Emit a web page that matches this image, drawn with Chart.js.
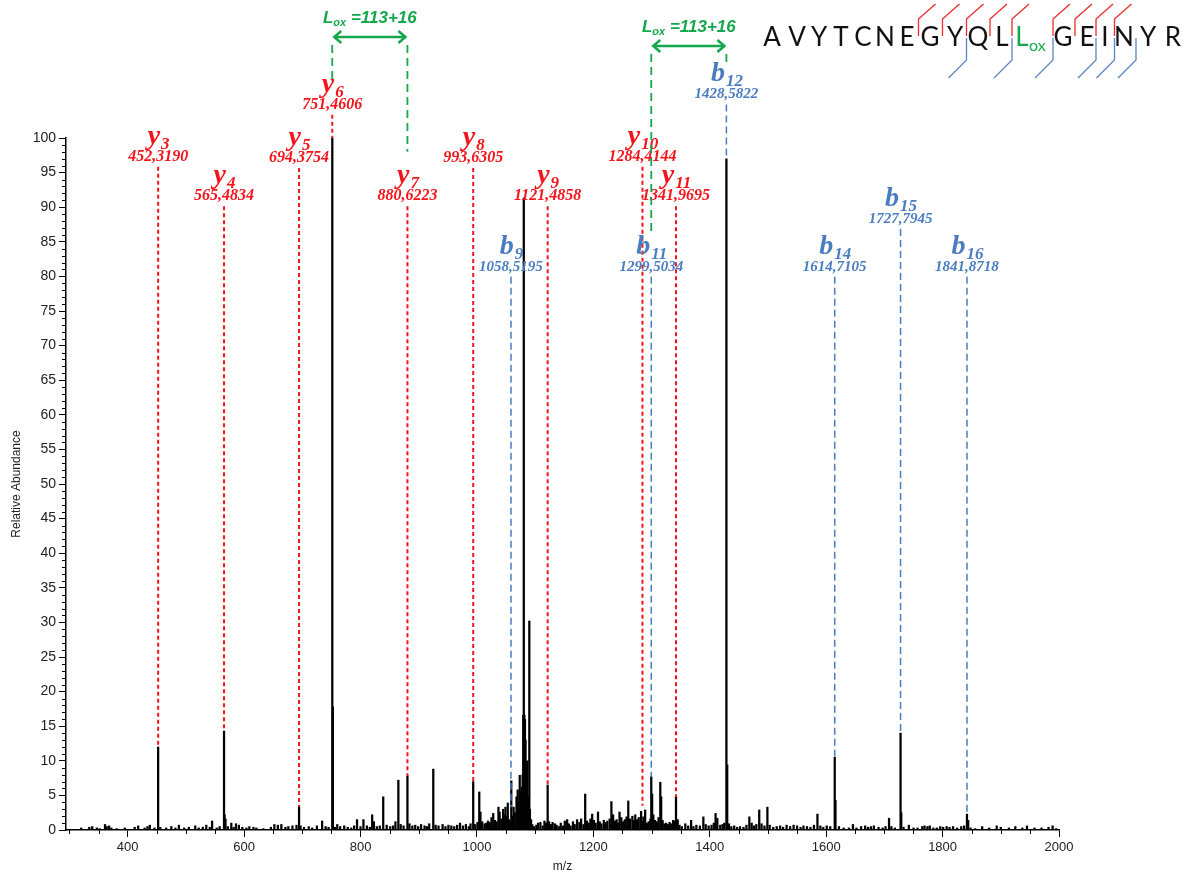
<!DOCTYPE html>
<html><head><meta charset="utf-8">
<script src="https://cdn.jsdelivr.net/npm/chart.js@4.4.1/dist/chart.umd.min.js"></script>
<style>html,body{margin:0;padding:0;background:#fff;}#wrap{width:1190px;height:880px;position:relative;}</style>
</head><body><div id="wrap"><canvas id="c" width="1190" height="880"></canvas></div>
<script>
// ---- spectrum data (m/z, relative abundance) ----
const mzValues = [
320,334,339,347,352,361,364,368,372,381,395,412,418,429,434,438,446,452.3,456,466,475,482,488,497,505,516,522,529,535,541,545,553,558,565.5,566.5,568,572,578,582,586,591,597,604,609,616,621,633,646,652,658,664,671,676,683,690,694.4,697,703,711,717,725,734,740,745,751.5,752.5,756,760,765,772,778,784,789,794,800,805,811,816,820,823,828,833,839,845,851,856,860,865,869,874,880.6,884,889,894,899,904,910,914,918,925,929,934,941,946,951,956,961,966,971,976,981,986,989,993.6,997,1001,1004,1006,1009,1013,1016,1019,1022,1025,1028,1031,1034,1037,1039,1042,1045,1047,1049,1051,1053,1055,1057,1059,1061,1063,1065,1068,1070,1072,1073.5,1075,1077,1078.5,1079.5,1080.5,1081.5,1082.5,1083.5,1085,1086.5,1088,1090,1091,1093,1095,1098,1102,1105,1109,1113,1116,1119,1121.5,1124,1127,1130,1134,1137,1141,1144,1148,1151,1155,1158,1161,1165,1168,1172,1176,1179,1183,1186,1189,1192,1195,1198,1201,1204,1208,1211,1214,1218,1221,1224,1228,1231,1234,1237,1240,1242,1245,1248,1251,1254,1257,1260,1263,1267,1270,1272,1275,1278,1282,1284.4,1286,1289,1292,1295,1298,1299.5,1301,1303,1306,1309,1312,1315,1316.5,1319,1322,1325,1328,1331,1334,1337,1340,1342,1345,1348,1352,1358,1363,1368,1372,1377,1383,1389,1393,1398,1403,1407,1410,1413,1418,1422,1425,1428.6,1430,1433,1437,1442,1447,1452,1458,1463,1468,1472,1476,1480,1485,1489,1494,1499,1503,1509,1515,1521,1526,1532,1538,1544,1550,1556,1561,1567,1573,1579,1585,1590,1595,1601,1607,1614.7,1616,1622,1630,1639,1646,1652,1660,1667,1672,1677,1682,1690,1697,1702,1708,1712,1718,1727.8,1729,1733,1742,1750,1757,1765,1769,1774,1778,1784,1790,1796,1801,1807,1812,1818,1825,1832,1837,1841.9,1844,1848,1856,1868,1880,1893,1900,1914,1925,1937,1945,1958,1970,1982,1989,1995
];
const abundance = [
0.3,0.4,0.5,0.3,0.2,0.8,0.5,0.6,0.3,0.2,0.3,0.4,0.6,0.3,0.5,0.7,0.3,12.0,0.4,0.3,0.5,0.3,0.7,0.3,0.4,0.6,0.3,0.4,0.7,0.4,1.3,0.3,0.5,14.3,2.2,1.6,0.5,1.0,0.4,0.9,0.7,0.4,0.3,0.5,0.4,0.3,0.2,0.4,0.8,0.7,0.8,0.4,0.5,0.6,0.7,3.4,0.6,0.4,0.5,0.3,0.6,1.3,0.5,0.4,100,17.8,0.4,0.8,0.5,0.6,0.4,0.3,0.6,1.5,0.5,1.5,0.6,0.4,2.2,1.2,0.5,0.6,4.8,0.7,0.5,0.6,1.2,7.2,0.8,0.6,7.8,0.9,0.6,0.7,0.5,0.8,0.6,0.5,0.9,8.8,0.7,0.6,0.8,0.5,0.7,0.6,0.5,0.7,1.0,0.6,0.8,0.5,0.9,7.0,0.8,1.1,5.5,2.6,1.2,0.9,1.0,1.3,1.1,1.8,2.4,1.4,1.2,3.3,2.6,1.6,3.0,2.2,3.3,2.0,3.9,1.5,1.2,7.1,2.0,3.3,2.5,4.8,5.8,4.0,7.9,5.5,6.2,8.0,16.6,91.3,16.6,16.0,13.0,9.0,10.0,4.8,30.2,3.0,1.5,0.8,0.5,0.7,1.0,1.1,0.6,1.3,1.0,6.5,1.2,0.8,1.1,0.9,0.7,0.5,1.0,0.6,1.3,1.5,0.9,0.6,1.2,0.8,1.5,1.1,1.6,0.8,5.2,1.3,1.0,1.6,2.3,1.4,1.0,2.6,1.2,0.9,1.4,1.1,1.3,1.6,4.1,2.2,1.3,1.5,1.0,2.6,1.8,1.2,1.5,1.9,4.2,1.6,2.0,1.4,2.2,1.5,1.8,2.7,1.3,1.9,2.9,1.0,1.2,1.6,7.7,5.2,2.2,1.4,1.2,1.8,6.9,4.8,1.4,0.9,1.0,0.8,1.1,0.9,1.4,1.3,4.8,1.5,0.7,0.5,0.9,0.6,1.4,0.5,0.7,0.6,1.9,0.8,0.6,0.7,1.0,2.4,1.7,0.7,0.8,1.0,97.0,9.4,0.9,0.5,0.6,0.4,0.5,0.4,0.7,1.9,1.0,0.6,0.8,2.9,0.9,0.6,3.3,0.7,0.4,0.5,0.6,0.4,0.7,0.5,0.7,0.6,0.4,0.6,0.5,0.4,0.7,2.3,0.6,0.4,0.6,0.5,10.5,4.3,0.5,0.3,0.3,0.8,0.3,0.5,0.6,0.4,0.5,0.6,0.4,0.3,0.5,1.7,0.5,0.3,14.0,2.5,0.4,0.7,0.3,0.3,0.5,0.6,0.5,0.6,0.3,0.3,0.5,0.4,0.5,0.4,0.5,0.3,0.5,0.6,2.3,1.4,0.3,0.2,0.5,0.3,0.6,0.4,0.3,0.5,0.3,0.6,0.3,0.3,0.4,0.6,0.2
];
const xTickLabels = [400,600,800,1000,1200,1400,1600,1800,2000];
const yTickValues = [0,5,10,15,20,25,30,35,40,45,50,55,60,65,70,75,80,85,90,95,100];

// ---- fragment ion annotations ----
const ionLetter = ['y','y','y','y','y','y','y','y','y','b','b','b','b','b','b'];
const ionIndex  = ['3','4','5','6','7','8','9','10','11','9','11','12','14','15','16'];
const ionMassText = ['452,3190','565,4834','694,3754','751,4606','880,6223','993,6305','1121,4858','1284,4144','1341,9695','1058,5195','1299,5034','1428,5822','1614,7105','1727,7945','1841,8718'];
const ionMz = [452.3,565.5,694.4,751.46,880.6,993.6,1121.5,1284.4,1342.0,1058.5,1299.5,1428.6,1614.7,1727.8,1841.9];
const ionPeakTop = [12.0,14.3,3.4,100,7.8,7.0,6.5,3.5,4.8,3.3,7.7,97.0,10.5,14.0,2.3];
const ionLabelLevel = [97.3,91.6,97.1,104.8,91.6,97.1,91.6,97.3,91.6,81.4,81.4,106.3,81.4,88.3,81.4];

// L(ox) mass-shift brackets: pairs of m/z
const shiftFrom = [751.46, 1299.5];
const shiftTo   = [880.6, 1428.6];

// peptide sequence
const sequence = ['A','V','Y','T','C','N','E','G','Y','Q','L','L','G','E','I','N','Y','R'];
const yBreaks = [7,8,9,10,11,12,13,14,15];   // break after residue count
const bBreaks = [9,11,12,14,15,16];

const RED = '#f5141c', BLUE = '#4a7dbf', GREEN = '#14a84c';

const minorTicks = {
  id: 'minorTicks',
  afterDraw(chart) {
    const {ctx, scales: {x, y}} = chart;
    ctx.save();
    ctx.strokeStyle = '#000'; ctx.lineWidth = 1;
    const yb = y.getPixelForValue(0), xl = x.getPixelForValue(x.min);
    for (let v = 300; v <= 2000; v += 50) {
      if (v % 200 === 0) continue;
      const px = Math.round(x.getPixelForValue(v)) + 0.5;
      ctx.beginPath(); ctx.moveTo(px, yb); ctx.lineTo(px, yb + 4); ctx.stroke();
    }
    for (let v = 0; v <= 100; v += 1) {
      if (v % 5 === 0) continue;
      const py = Math.round(y.getPixelForValue(v)) + 0.5;
      ctx.beginPath(); ctx.moveTo(xl - 4, py); ctx.lineTo(xl, py); ctx.stroke();
    }
    ctx.restore();
  }
};

function drawIonLabel(ctx, letter, idx, cx, baseY, color) {
  const f1 = 'bold italic 28px "Liberation Serif"', f2 = 'bold italic 17px "Liberation Serif"';
  ctx.font = f1; const w1 = ctx.measureText(letter).width;
  ctx.font = f2; const w2 = ctx.measureText(idx).width;
  const x0 = cx - (w1 + w2) / 2;
  ctx.fillStyle = color; ctx.textAlign = 'left'; ctx.textBaseline = 'alphabetic';
  ctx.font = f1; ctx.fillText(letter, x0, baseY);
  ctx.font = f2; ctx.fillText(idx, x0 + w1 + 1, baseY + 5);
}

function dashedV(ctx, x, y1, y2, color, dash, w) {
  ctx.save(); ctx.strokeStyle = color; ctx.lineWidth = w; ctx.setLineDash(dash);
  ctx.beginPath(); ctx.moveTo(x, y1); ctx.lineTo(x, y2); ctx.stroke(); ctx.restore();
}

const annotations = {
  id: 'annotations',
  afterDraw(chart) {
    const {ctx, scales: {x, y}} = chart;
    ctx.save();
    for (let i = 0; i < ionMz.length; i++) {
      const isY = ionLetter[i] === 'y';
      const color = isY ? RED : BLUE;
      const px = x.getPixelForValue(ionMz[i]);
      const numY = y.getPixelForValue(ionLabelLevel[i]);
      const topY = y.getPixelForValue(ionPeakTop[i]);
      dashedV(ctx, px, numY + 10, topY, color, isY ? [4, 3] : [7, 4], isY ? 2 : 1.5);
      drawIonLabel(ctx, ionLetter[i], ionIndex[i], px, numY - 13, color);
      ctx.fillStyle = color;
      ctx.font = isY ? 'bold italic 16px "Liberation Serif"' : 'italic bold 15px "Liberation Serif"';
      ctx.textAlign = 'center'; ctx.textBaseline = 'middle';
      ctx.fillText(ionMassText[i], px, numY);
    }
    // L(ox) shift brackets
    const arrowLevel = [114.6, 113.3];
    const labelLevel = [117.5, 116.2];
    const leftEnd = [107.9, 86.3];
    const rightEnd = [98.0, 110.6];
    for (let k = 0; k < shiftFrom.length; k++) {
      const xa = x.getPixelForValue(shiftFrom[k]), xb = x.getPixelForValue(shiftTo[k]);
      const ay = y.getPixelForValue(arrowLevel[k]);
      dashedV(ctx, xa, ay + 8, y.getPixelForValue(leftEnd[k]), GREEN, [8, 5], 1.8);
      dashedV(ctx, xb, ay + 8, y.getPixelForValue(rightEnd[k]), GREEN, [8, 5], 1.8);
      ctx.strokeStyle = GREEN; ctx.lineWidth = 2.5; ctx.setLineDash([]);
      ctx.beginPath(); ctx.moveTo(xa + 2, ay); ctx.lineTo(xb - 2, ay); ctx.stroke();
      ctx.beginPath(); ctx.moveTo(xa + 9, ay - 6); ctx.lineTo(xa + 2, ay); ctx.lineTo(xa + 9, ay + 6); ctx.stroke();
      ctx.beginPath(); ctx.moveTo(xb - 9, ay - 6); ctx.lineTo(xb - 2, ay); ctx.lineTo(xb - 9, ay + 6); ctx.stroke();
      // label
      const ly = y.getPixelForValue(labelLevel[k]);
      const fA = 'bold italic 17px "Liberation Sans"', fB = 'bold italic 11px "Liberation Sans"';
      ctx.font = fA; const wL = ctx.measureText('L').width, wR = ctx.measureText(' =113+16').width;
      ctx.font = fB; const wS = ctx.measureText('ox').width;
      const cx = (xa + xb) / 2; let x0 = cx - (wL + wS + wR) / 2;
      ctx.fillStyle = GREEN; ctx.textAlign = 'left'; ctx.textBaseline = 'alphabetic';
      ctx.font = fA; ctx.fillText('L', x0, ly + 6);
      ctx.font = fB; ctx.fillText('ox', x0 + wL, ly + 9);
      ctx.font = fA; ctx.fillText(' =113+16', x0 + wL + wS, ly + 6);
    }
    ctx.restore();
  }
};

const seqCenters = [772,797,819,841,863,885,907,930,955,978,1002,1022,1063,1087,1105,1124,1148,1173];
const seqPlugin = {
  id: 'seq',
  afterDraw(chart) {
    const ctx = chart.ctx; ctx.save();
    const base = 46;
    ctx.textAlign = 'center'; ctx.textBaseline = 'alphabetic';
    for (let i = 0; i < sequence.length; i++) {
      const isOx = i === 11;
      ctx.fillStyle = isOx ? GREEN : '#111';
      ctx.font = '26px Lato';
      ctx.fillText(sequence[i], seqCenters[i], base);
      if (isOx) { ctx.font = '16px Lato'; ctx.textAlign = 'left'; ctx.fillText('ox', seqCenters[i] + 7, base + 5); ctx.textAlign = 'center'; }
    }
    const brk = (n) => n === 12 ? 1053 : (seqCenters[n - 1] + seqCenters[n]) / 2;
    ctx.lineWidth = 1.3;
    ctx.strokeStyle = '#ee2a2a';
    yBreaks.forEach(n => { const bx = brk(n); ctx.beginPath(); ctx.moveTo(bx, 36); ctx.lineTo(bx, 19); ctx.lineTo(bx + 17, 4); ctx.stroke(); });
    ctx.strokeStyle = '#5b86c4';
    bBreaks.forEach(n => { const bx = brk(n); ctx.beginPath(); ctx.moveTo(bx, 38); ctx.lineTo(bx, 60); ctx.lineTo(bx - 18, 78); ctx.stroke(); });
    ctx.restore();
  }
};

new Chart(document.getElementById('c'), {
  type: 'bar',
  data: { datasets: [{ data: mzValues.map((m, i) => ({ x: m, y: abundance[i] })), backgroundColor: '#000', barThickness: 1.6 }] },
  options: {
    responsive: false, animation: false,
    layout: { padding: { left: 0, right: 131, top: 138, bottom: 0 } },
    plugins: { legend: { display: false }, tooltip: { enabled: false } },
    scales: {
      x: {
        type: 'linear', min: 294, max: 2000, offset: false,
        afterBuildTicks: s => { s.ticks = xTickLabels.map(v => ({ value: v })); },
        afterFit: s => { s.height = 50; },
        grid: { drawOnChartArea: false, drawTicks: true, tickLength: 7, color: '#000', lineWidth: 1, offset: false },
        border: { color: '#000', width: 1.5 },
        ticks: { color: '#222', font: { family: '"Liberation Sans"', size: 13 }, padding: 3, maxRotation: 0, autoSkip: false, callback: v => String(v) },
        title: { display: true, text: 'm/z', color: '#222', font: { family: '"Liberation Sans"', size: 12 }, padding: { top: 6, bottom: 6 } }
      },
      y: {
        min: 0, max: 100,
        afterBuildTicks: s => { s.ticks = yTickValues.map(v => ({ value: v })); },
        afterFit: s => { s.width = 66; },
        grid: { drawOnChartArea: false, drawTicks: true, tickLength: 7, color: '#000', lineWidth: 1 },
        border: { color: '#000', width: 1.5 },
        ticks: { color: '#222', font: { family: '"Liberation Sans"', size: 14 }, padding: 3, autoSkip: false, callback: v => String(v) },
        title: { display: true, text: 'Relative Abundance', color: '#222', font: { family: '"Liberation Sans"', size: 12 }, padding: { top: 9, bottom: 9 } }
      }
    }
  },
  plugins: [minorTicks, annotations, seqPlugin]
});
</script></body></html>
